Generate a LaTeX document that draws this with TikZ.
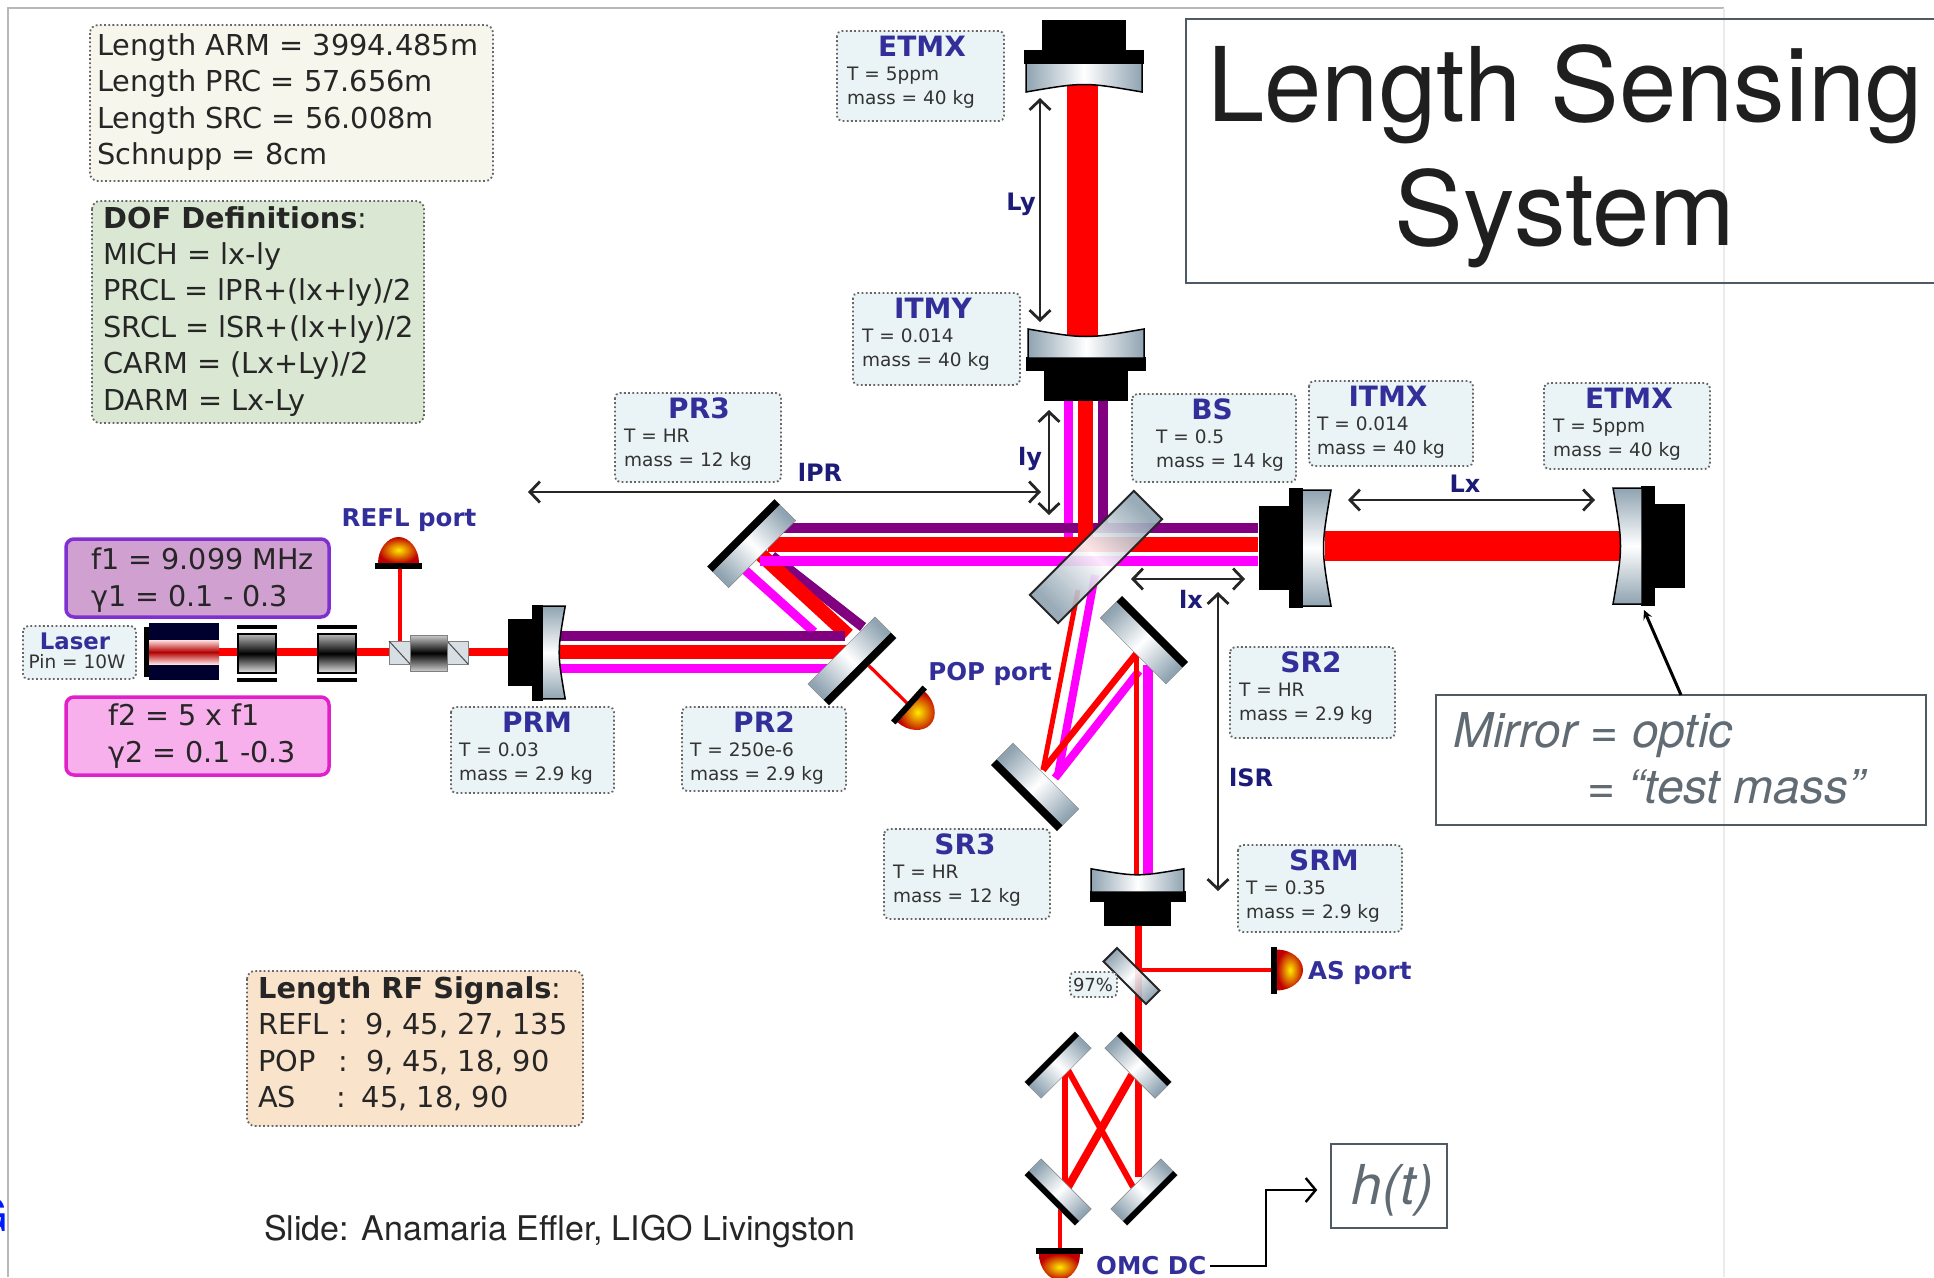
\documentclass[tikz,border=0pt]{standalone}
\usepackage{fontspec}
\usepackage{xcolor}
\usetikzlibrary{arrows.meta}
\setmainfont{DejaVu Sans}
\newfontfamily\slidefont{TeX Gyre Heros}

\definecolor{steel}{HTML}{8FA3B1}
\definecolor{paramfill}{HTML}{EAF3F5}
\definecolor{dotgray}{HTML}{666666}
\definecolor{labelblue}{HTML}{332F9A}
\definecolor{dimnavy}{HTML}{1C1C78}
\definecolor{beampurple}{HTML}{800080}
\definecolor{beammagenta}{HTML}{FF00FF}
\definecolor{beamred}{HTML}{FF0000}
\definecolor{notegray}{HTML}{505A64}
\definecolor{lengthfill}{HTML}{F7F6EC}
\definecolor{doffill}{HTML}{DAE7D2}
\definecolor{signalfill}{HTML}{FAE3CB}

\tikzset{
  paramsbox/.style={draw=dotgray, fill=paramfill, line width=1.8pt, dash pattern=on 1.8pt off 2.4pt, rounded corners=5pt},
  legendbox/.style={draw=dotgray, line width=1.8pt, dash pattern=on 1.8pt off 2.4pt, rounded corners=8pt},
  legendtext/.style={anchor=north west, inner sep=0pt, align=left, text=black!85, font=\fontsize{28.8}{36.4}\selectfont},
  sidebandtext/.style={legendtext, font=\fontsize{28.6}{37}\selectfont},
  paramtext/.style={anchor=north west, inner sep=0pt, align=left, text=black!80, font=\fontsize{18.5}{24}\selectfont},
  opticname/.style={inner sep=0pt, text=labelblue, font=\fontsize{28}{30}\selectfont\bfseries},
  portname/.style={inner sep=0pt, text=labelblue, font=\fontsize{24.5}{26}\selectfont\bfseries},
  dimname/.style={inner sep=0pt, text=dimnavy, font=\fontsize{24}{26}\selectfont\bfseries},
  dimarrow/.style={draw=black!85, line width=2.8pt, {Straight Barb[length=10pt,width=21pt]}-{Straight Barb[length=10pt,width=21pt]}},
  notebox/.style={draw=notegray, line width=1.5pt},
  notetext/.style={inner sep=0pt, text=notegray!90, font=\slidefont\itshape\fontsize{48}{56}\selectfont},
  purplebeam/.style={draw=beampurple},
  magentabeam/.style={draw=beammagenta},
  redbeam/.style={draw=beamred},
}

% flat mirror: x, y, angle, length, thickness
\newcommand{\flatmirror}[5]{
  \pgfmathsetmacro{\mirrorshade}{#3-90}
  \begin{scope}[shift={(#1,#2)}, rotate=#3]
    \shade[top color=steel, bottom color=steel, middle color=white, shading angle=\mirrorshade, draw=gray, thin]
      (-#4/2,-#5/2) rectangle (#4/2,#5/2);
    \fill[black] (-#4/2,-#5/2) rectangle (#4/2,-#5/2+#5/4);
  \end{scope}
}
% beam splitter: x, y, angle, length, thickness
\newcommand{\splitter}[5]{
  \pgfmathsetmacro{\mirrorshade}{#3-90}
  \begin{scope}[shift={(#1,#2)}, rotate=#3]
    \shade[top color=steel, bottom color=steel, middle color=white, shading angle=\mirrorshade, fill opacity=0.9]
      (-#4/2,-#5/2) rectangle (#4/2,#5/2);
    \draw[black!85, line width=2pt] (-#4/2,-#5/2) rectangle (#4/2,#5/2);
  \end{scope}
}
% curved mirror with its mount: x, y, angle, scale
\newcommand{\testmass}[4]{
  \pgfmathsetmacro{\mirrorshade}{#3-90}
  \begin{scope}[shift={(#1,#2)}, rotate=#3, scale=#4]
    \fill[black] (-42,-43) rectangle (42,-12);
    \fill[black] (-60,-13) rectangle (60,1);
    \shade[top color=steel, bottom color=steel, middle color=white, shading angle=\mirrorshade, draw=black, line width=1.5pt]
      (-58,0) -- (58,0) -- (58,29) .. controls (0,19) .. (-58,29) -- cycle;
  \end{scope}
}
% photodiode: x, y, angle
\newcommand{\photodiode}[3]{
  \begin{scope}[shift={(#1,#2)}, rotate=#3]
    \shade[inner color=yellow!85!orange, outer color=red!75!black]
      (3,-20.5) .. controls (17,-20.5) and (29,-11) .. (29,0) .. controls (29,11) and (17,20.5) .. (3,20.5) -- cycle;
    \fill[black] (-3,-23.5) rectangle (3,23.5);
  \end{scope}
}
% phase modulator next to the laser
\newcommand{\modulator}[1]{
  \fill[black] (#1,625) rectangle (#1+40,628.5);
  \fill[black] (#1,678) rectangle (#1+40,682);
  \shade[top color=black!28, bottom color=black!10, middle color=black, draw=black, line width=2.5pt]
    (#1+1,634) rectangle (#1+39,673);
}
% one labelled box: id, left, top, right, bottom, title, title x, text x, text
\newcommand{\opticbox}[9]{
  \draw[paramsbox] (#2,#3) rectangle (#4,#5);
  \node[opticname] (#1name) at (#7,#3+15) {#6};
  \node[paramtext] (#1text) at (#8,#3+36) {#9};
}

\begin{document}
\begin{tikzpicture}[x=1pt, y=-1pt]
  \useasboundingbox (0,0) rectangle (1934,1277);
  \fill[white] (0,0) rectangle (1934,1277);

  % Slide frame
  \draw[black!28, line width=1.2pt] (8,1277) -- (8,8) -- (1724,8);
  \draw[black!8, line width=1.2pt] (1724,8) -- (1724,1277);
  \begin{scope}
    \clip (0,1150) rectangle (7.5,1277);
    \node[inner sep=0pt, anchor=east, text=blue!90!cyan, font=\slidefont\fontsize{46}{50}\selectfont] (cutletter) at (8,1215) {G};
  \end{scope}

  % Title
  \draw[notegray, line width=1.5pt] (1934,19) -- (1186,19) -- (1186,283) -- (1934,283);
  \node[inner sep=0pt, anchor=base, text=black!88, font=\slidefont\fontsize{103}{110}\selectfont] (titleone) at (1565,121) {Length Sensing};
  \node[inner sep=0pt, anchor=base, text=black!88, font=\slidefont\fontsize{103}{110}\selectfont] (titletwo) at (1565,245) {System};

  % Legend boxes
  \draw[legendbox, fill=lengthfill] (90,25) rectangle (493,181);
  \node[legendtext] (lengths) at (97,33.5) {Length ARM = 3994.485m\\Length PRC = 57.656m\\Length SRC = 56.008m\\Schnupp = 8cm};
  \draw[legendbox, fill=doffill] (92,201) rectangle (424,423);
  \node[legendtext] (dofs) at (103,206) {\textbf{DOF Definitions}:\\MICH = lx-ly\\PRCL = lPR+(lx+ly)/2\\SRCL = lSR+(lx+ly)/2\\CARM = (Lx+Ly)/2\\DARM = Lx-Ly};
  \draw[legendbox, fill=signalfill] (247,971) rectangle (583,1126);
  \node[legendtext] (signals) at (258,976.5) {\textbf{Length RF Signals}:\\REFL :\hspace{18pt}9, 45, 27, 135\\POP\hspace{23pt}:\hspace{18pt}9, 45, 18, 90\\AS\hspace{40pt}:\hspace{16pt}45, 18, 90};
  \node[inner sep=0pt, anchor=base west, text=black!85, font=\slidefont\fontsize{34}{38}\selectfont] (credit) at (264,1240) {Slide: Anamaria Effler, LIGO Livingston};

  % Sideband boxes
  \draw[draw={rgb,255:red,128;green,48;blue,208}, fill={rgb,255:red,208;green,160;blue,208}, line width=3.5pt, rounded corners=8pt] (66,539) rectangle (329,617);
  \node[sidebandtext] (fone) at (91,548) {f1 = 9.099 MHz\\γ1 = 0.1 - 0.3};
  \draw[draw={rgb,255:red,224;green,32;blue,200}, fill={rgb,255:red,248;green,176;blue,236}, line width=3.5pt, rounded corners=8pt] (66,697) rectangle (329,775);
  \node[sidebandtext] (ftwo) at (108,704) {f2 = 5 x f1\\γ2 = 0.1 -0.3};

  % Input beam and REFL pick-off
  \draw[redbeam, line width=8pt] (215,652) -- (510,652);
  \draw[redbeam, line width=3.2pt] (400,566) -- (400,645);

  % Beams in the power recycling cavity
  \draw[purplebeam, line width=10pt] (772,556) -- (863,627);
  \draw[redbeam, line width=14pt] (758,552) -- (848,635);
  \draw[magentabeam, line width=9pt] (745,570) -- (814,632);
  \draw[purplebeam, line width=10pt] (555,636) -- (845,636);
  \draw[redbeam, line width=14pt] (555,652) -- (852,652);
  \draw[magentabeam, line width=9pt] (555,668.5) -- (830,668.5);
  \draw[redbeam, line width=3.2pt] (860,657) -- (909,705);

  % Beams to the arms
  \draw[magentabeam, line width=9.5pt] (1068.5,400) -- (1068.5,540);
  \draw[purplebeam, line width=10pt] (1103,400) -- (1103,526);
  \draw[magentabeam, line width=10pt] (760,561) -- (1258,561);
  \draw[purplebeam, line width=10pt] (775,528) -- (1258,528);
  \draw[redbeam, line width=15pt] (768,544.5) -- (1258,544.5);
  \draw[redbeam, line width=15pt] (1085.5,400) -- (1085.5,540);
  \draw[redbeam, line width=31pt] (1082.5,85) -- (1082.5,336);
  \draw[redbeam, line width=30pt] (1325,546) -- (1622,546);

  % Beams in the signal recycling cavity
  \draw[magentabeam, line width=8pt] (1095,575) -- (1058,775);
  \draw[redbeam, line width=5pt] (1078,590) -- (1043,770);
  \draw[magentabeam, line width=8pt] (1055,778) -- (1139,671);
  \draw[redbeam, line width=6.5pt] (1043,770) -- (1136,654);
  \draw[magentabeam, line width=9.5pt] (1148,665) -- (1148,880);
  \draw[redbeam, line width=5pt] (1136,653) -- (1136,880);

  % Output beams
  \draw[redbeam, line width=7pt] (1138,925) -- (1138,1177);
  \draw[redbeam, line width=4pt] (1138,970) -- (1272,970);
  \draw[redbeam, line width=6pt] (1065,1070) -- (1065,1185);
  \draw[redbeam, line width=6pt] (1068,1070) -- (1133,1187);
  \draw[redbeam, line width=8pt] (1132,1075) -- (1068,1187);
  \draw[redbeam, line width=4pt] (1059.5,1200) -- (1059.5,1250);

  % Laser
  \fill[black] (144,627) rectangle (149,677);
  \fill[black!82!blue] (149,623) rectangle (219,680);
  \shade[top color=red!12, bottom color=red!12, middle color=red!70!black] (149,640) rectangle (219,664);
  \modulator{237}
  \modulator{317}

  % Faraday isolator
  \draw[gray, fill=steel!35, line width=1pt] (389,641) rectangle (410,664);
  \draw[gray, fill=steel!35, line width=1pt] (447,641) rectangle (468,664);
  \draw[black!70, line width=1pt] (389,641) -- (410,664);
  \draw[black!70, line width=1pt] (447,641) -- (468,664);
  \shade[top color=black!20, bottom color=black!20, middle color=black, draw=gray] (410,635) rectangle (447,671);

  % Curved mirrors
  \testmass{1084}{63}{0}{1}
  \testmass{1086}{358}{180}{1}
  \testmass{1302}{548}{90}{1}
  \testmass{1642}{546}{-90}{1}
  \testmass{1137.5}{892}{180}{0.8}
  \testmass{542}{652.5}{90}{0.8}

  % Flat mirrors
  \flatmirror{751.5}{543.5}{45}{95}{30}
  \flatmirror{852}{661}{225}{95}{30}
  \flatmirror{1144}{640}{-45}{93}{31}
  \flatmirror{1035}{787}{135}{93}{31}
  \flatmirror{1058}{1065}{45}{71}{23}
  \flatmirror{1138}{1065}{-45}{71}{23}
  \flatmirror{1058}{1192}{135}{71}{23}
  \flatmirror{1144}{1192}{225}{71}{23}
  \splitter{1096}{557}{45}{147}{40}
  \splitter{1131.5}{976}{-45}{60}{19}

  % Photodiodes
  \photodiode{398.5}{566}{90}
  \photodiode{909}{705}{-42}
  \photodiode{1274}{970}{0}
  \photodiode{1059.5}{1251}{-90}

  % Optic boxes
  \opticbox{etmy}{837}{31}{1004}{121}{ETMX}{922}{847}{T = 5ppm\\mass = 40 kg}
  \opticbox{itmy}{853}{293}{1020}{385}{ITMY}{933}{862}{T = 0.014\\mass = 40 kg}
  \opticbox{prthree}{615}{393}{781}{482}{PR3}{699}{624}{T = HR\\mass = 12 kg}
  \opticbox{bs}{1132}{394}{1296}{482}{BS}{1212}{1156}{T = 0.5\\mass = 14 kg}
  \opticbox{itmx}{1309}{381}{1473}{466}{ITMX}{1388}{1317}{T = 0.014\\mass = 40 kg}
  \opticbox{etmx}{1544}{383}{1710}{469}{ETMX}{1629}{1553}{T = 5ppm\\mass = 40 kg}
  \opticbox{prm}{451}{707}{614}{793}{PRM}{537}{459}{T = 0.03\\mass = 2.9 kg}
  \opticbox{prtwo}{682}{707}{846}{791}{PR2}{764}{690}{T = 250e-6\\mass = 2.9 kg}
  \opticbox{srtwo}{1230}{647}{1395}{738}{SR2}{1311}{1239}{T = HR\\mass = 2.9 kg}
  \opticbox{srthree}{884}{829}{1050}{919}{SR3}{965}{893}{T = HR\\mass = 12 kg}
  \opticbox{srm}{1238}{845}{1402}{932}{SRM}{1324}{1246}{T = 0.35\\mass = 2.9 kg}

  % Laser box and 97% box
  \draw[paramsbox] (23,626) rectangle (136,679);
  \node[opticname, font=\fontsize{22.8}{24}\selectfont\bfseries] (lasername) at (75,641) {Laser};
  \node[paramtext, anchor=center] (laserpower) at (77,662) {Pin = 10W};
  \draw[paramsbox] (1070,972) rectangle (1117,997);
  \node[paramtext, anchor=center, font=\fontsize{18}{20}\selectfont] (pickoff) at (1093,985) {97\%};

  % Port names
  \node[portname] (reflport) at (409,520) {REFL port};
  \node[portname] (popport) at (990,674) {POP port};
  \node[portname, anchor=west] (asport) at (1308,972.5) {AS port};
  \node[portname, anchor=west, inner xsep=4pt] (omcdc) at (1092,1266) {OMC DC};

  % Length arrows
  \coordinate (lytop) at (1040,98);
  \coordinate (lybot) at (1040,322);
  \coordinate (sytop) at (1049,410);
  \coordinate (sybot) at (1049,515);
  \coordinate (iprleft) at (528,492);
  \coordinate (iprright) at (1041,492);
  \coordinate (lxleft) at (1348,500);
  \coordinate (lxright) at (1595,500);
  \coordinate (sxleft) at (1131,579);
  \coordinate (sxright) at (1245,579);
  \coordinate (isrtop) at (1218,592);
  \coordinate (isrbot) at (1218,891);
  \draw[dimarrow] (lytop) -- (lybot);
  \draw[dimarrow] (sytop) -- (sybot);
  \draw[dimarrow] (iprleft) -- (iprright);
  \draw[dimarrow] (lxleft) -- (lxright);
  \draw[dimarrow] (sxleft) -- (sxright);
  \draw[dimarrow] (isrtop) -- (isrbot);
  \node[dimname] (lyname) at (1021,204) {Ly};
  \node[dimname] (syname) at (1030,459) {ly};
  \node[dimname] (iprname) at (820,472) {lPR};
  \node[dimname] (lxname) at (1465,484) {Lx};
  \node[dimname] (sxname) at (1191,599) {lx};
  \node[dimname] (isrname) at (1251,778) {lSR};

  % Notes
  \node[notebox, minimum width=490pt, minimum height=130pt, inner sep=0pt] (mirrornote) at (1681,760) {};
  \node[notetext, anchor=base west] (noteone) at (1453,747) {Mirror = optic};
  \node[notetext, anchor=base west] (notetwo) at (1587,803) {= “test mass”};
  \coordinate (notefoot) at (1681,695);
  \coordinate (masshead) at (1644,610);
  \draw[->, >=stealth, black, line width=3pt] (notefoot) -- (masshead);

  % h(t) output
  \node[notebox, minimum width=116pt, minimum height=84pt, inner sep=0pt] (ht) at (1389,1186) {};
  \node[notetext, font=\slidefont\itshape\fontsize{55}{60}\selectfont] (httext) at (1393,1190) {h(t)};
  \coordinate (omcbend) at (1266,1190);
  \draw[-{Straight Barb[length=10pt,width=24pt]}, black, line width=2.4pt, shorten >=13pt] (omcdc.east) -- (omcdc.east -| omcbend) -- (omcbend) -- (ht.west |- omcbend);
\end{tikzpicture}
\end{document}
